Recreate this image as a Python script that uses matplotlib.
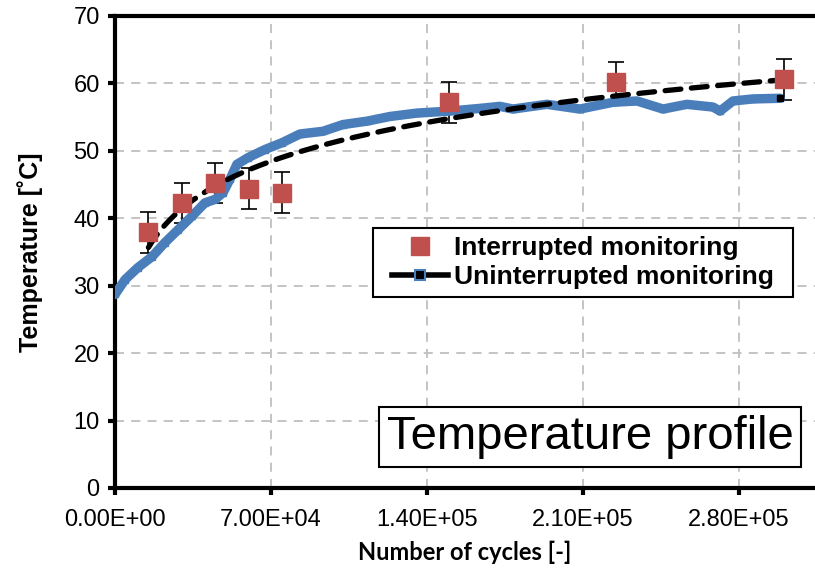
import numpy as np
from matplotlib import pyplot as plt
from matplotlib.lines import Line2D
from matplotlib.path import Path

# interrupted monitoring (discrete measurements with error bars)
int_cycles = [15000, 30000, 45000, 60000, 75000, 150000, 225000, 300000]
int_temp = [37.9, 42.3, 45.2, 44.4, 43.8, 57.2, 60.2, 60.6]
int_err = [3.0, 3.0, 3.0, 3.0, 3.0, 3.0, 3.0, 3.0]

# uninterrupted monitoring (continuous record)
cont_cycles = [0, 4500, 10300, 16600, 22400, 28300, 34500, 40400, 44900, 48500,
               51600, 54700, 59700, 67300, 74900, 83000, 93300, 102300, 113000,
               123400, 135500, 150300, 163800, 172700, 178600, 193800, 208600,
               223400, 234200, 245900, 256600, 268300, 271500, 277300, 286300,
               298400]
cont_temp = [28.7, 30.9, 32.7, 34.3, 36.4, 38.3, 40.3, 42.3, 42.8, 43.8,
             45.8, 48.0, 49.0, 50.2, 51.2, 52.5, 52.9, 53.9, 54.4,
             55.1, 55.6, 55.9, 56.3, 56.6, 56.2, 56.9, 56.2,
             57.2, 57.4, 56.2, 56.9, 56.5, 55.9, 57.4, 57.7,
             57.8]

x_ticks = [0, 70000, 140000, 210000, 280000]
x_tick_labels = ["0.00E+00", "7.00E+04", "1.40E+05", "2.10E+05", "2.80E+05"]

plt.rcParams["font.family"] = ["Liberation Sans", "DejaVu Sans"]


def wide_box(x0, y0, width, height, mutation_size):
    # legend frame with extra room left and right only
    dx = 0.42 * mutation_size
    return Path([(x0 - dx, y0), (x0 + width + dx, y0),
                 (x0 + width + dx, y0 + height), (x0 - dx, y0 + height),
                 (x0 - dx, y0)], closed=True)


fig = plt.figure(figsize=(8.15, 5.74), dpi=100)
ax = fig.add_axes([115 / 815, 86 / 574, 700 / 815, 472 / 574])

blue = "#4A7EBB"
red = "#C0504D"

ax.plot(cont_cycles, cont_temp, color=blue, lw=6.8, marker="s", ms=4.5,
        mfc=blue, mec=blue, solid_capstyle="round", solid_joinstyle="round",
        zorder=3)
ax.plot(cont_cycles[-1], cont_temp[-1], "s", color="black", ms=5, zorder=4)

# logarithmic trendline through the interrupted measurements
a, b = np.polyfit(np.log(int_cycles), int_temp, 1)
tx = np.linspace(int_cycles[0], int_cycles[-1], 200)
ax.plot(tx, a * np.log(tx) + b, color="black", lw=3.8, dashes=(3.0, 2.0),
        dash_capstyle="round", zorder=5)

ax.errorbar(int_cycles, int_temp, yerr=int_err, fmt="none", ecolor="black",
            elinewidth=1.2, capsize=5.5, capthick=1.2, zorder=2)
ax.plot(int_cycles, int_temp, "s", color=red, ms=13, zorder=6)

ax.set_xlim(0, 700 / 156 * 70000)
ax.set_ylim(0, 70)
ax.set_xticks(x_ticks)
ax.set_xticklabels(x_tick_labels)
ax.set_yticks(range(0, 71, 10))
ax.tick_params(axis="both", labelsize=17, width=3, length=5, direction="out")
ax.tick_params(axis="x", pad=10)
ax.tick_params(axis="y", pad=6)
ax.grid(True, color="#BFBFBF", lw=1.3, ls=(0, (5, 4)))
ax.set_axisbelow(True)

for side in ["left", "bottom", "top"]:
    ax.spines[side].set_linewidth(3)
ax.spines["right"].set_visible(False)

ax.set_ylabel("Temperature [˚C]", fontsize=18, fontweight="bold", labelpad=22)
ax.set_xlabel("Number of cycles [-]", fontsize=17, fontweight="bold",
              family=["Lato", "DejaVu Sans"], labelpad=7)

handles = [
    Line2D([], [], ls="none", marker="s", color=red, ms=13),
    Line2D([], [], color="black", lw=4, marker="s", ms=7, mfc="black", mec=blue,
           mew=1.5),
]
leg = ax.legend(handles, ["Interrupted monitoring", "Uninterrupted monitoring"],
                loc="upper left", bbox_to_anchor=(0.385, 0.551), borderaxespad=0,
                prop={"size": 19, "weight": "bold"}, fancybox=False,
                edgecolor="black", framealpha=1, handlelength=2.1,
                handletextpad=0.25, borderpad=0.3, labelspacing=0.2)
leg.get_frame().set_linewidth(1.5)
leg.get_frame().set_boxstyle(wide_box)

ax.text(0.679, 0.108, "Temperature profile", transform=ax.transAxes,
        fontsize=34, ha="center", va="center", zorder=7,
        bbox=dict(boxstyle="square,pad=0.16", fc="white", ec="black", lw=1.5))

fig.savefig("out.png", dpi=100)
